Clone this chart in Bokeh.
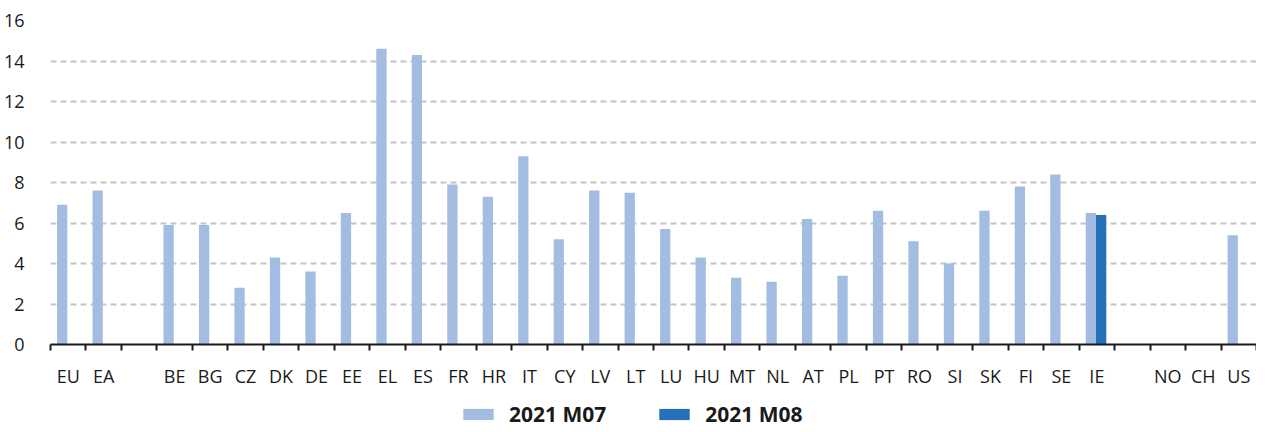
from bokeh.plotting import figure
from bokeh.layouts import column
from bokeh.models import FixedTicker, Legend, LegendItem, Range1d, ColumnDataSource
from bokeh.embed import file_html
from bokeh.resources import INLINE

categories = ["EU", "EA", "", "BE", "BG", "CZ", "DK", "DE", "EE", "EL", "ES", "FR",
              "HR", "IT", "CY", "LV", "LT", "LU", "HU", "MT", "NL", "AT", "PL", "PT",
              "RO", "SI", "SK", "FI", "SE", "IE", "", "NO", "CH", "US"]
m07 = [6.9, 7.6, None, 5.9, 5.9, 2.8, 4.3, 3.6, 6.5, 14.6, 14.3, 7.9,
       7.3, 9.3, 5.2, 7.6, 7.5, 5.7, 4.3, 3.3, 3.1, 6.2, 3.4, 6.6,
       5.1, 4.0, 6.6, 7.8, 8.4, 6.5, None, None, None, 5.4]
m08 = [None] * 29 + [6.4] + [None] * 4
series_names = ["2021 M07", "2021 M08"]
y_ticks = [0, 2, 4, 6, 8, 10, 12, 14, 16]

FONT = "Open Sans"
C07 = "#a3bde2"
C08 = "#2470ba"

n = len(categories)
bar_w = 0.29
off07, off08 = -0.17, 0.12


def src(vals, off):
    xs, tops = [], []
    for i, v in enumerate(vals):
        if v is not None:
            xs.append(i + 0.5 + off)
            tops.append(v)
    return ColumnDataSource(dict(x=xs, top=tops))


p = figure(width=1256, height=392, output_backend="svg", toolbar_location=None,
           x_range=Range1d(0, n), y_range=Range1d(0, 16),
           min_border_left=44, min_border_right=0, min_border_top=20, min_border_bottom=48)
p.outline_line_color = None
p.background_fill_color = "white"
p.border_fill_color = "white"

r07 = p.vbar(x="x", top="top", width=bar_w, bottom=0, source=src(m07, off07),
             fill_color=C07, line_color=None)
r08 = p.vbar(x="x", top="top", width=bar_w, bottom=0, source=src(m08, off08),
             fill_color=C08, line_color=None)

# grid
p.xgrid.grid_line_color = None
p.ygrid.ticker = FixedTicker(ticks=y_ticks)
p.ygrid.grid_line_color = "#c4c4c4"
p.ygrid.grid_line_width = 2
p.ygrid.grid_line_dash = "6 4"

# y axis
ya = p.yaxis[0]
ya.ticker = FixedTicker(ticks=y_ticks)
ya.axis_line_color = None
ya.major_tick_line_color = None
ya.minor_tick_line_color = None
ya.major_label_standoff = 20
ya.major_label_text_font = FONT
ya.major_label_text_font_size = "18px"
ya.major_label_text_color = "#1a1a1a"

# x axis
xa = p.xaxis[0]
centers = [i + 0.5 for i in range(n)]
xa.ticker = FixedTicker(ticks=centers, minor_ticks=list(range(n + 1)))
xa.major_label_overrides = {c: lab for c, lab in zip(centers, categories)}
xa.major_tick_line_color = None
xa.major_tick_out = 0
xa.major_tick_in = 0
xa.minor_tick_line_color = "#1a1a1a"
xa.minor_tick_line_width = 2
xa.minor_tick_out = 6
xa.minor_tick_in = 0
xa.axis_line_color = "#1a1a1a"
xa.axis_line_width = 2
xa.major_label_standoff = 13
xa.major_label_text_font = FONT
xa.major_label_text_font_size = "18px"
xa.major_label_text_color = "#1a1a1a"

# legend strip below the chart (its swatch bars have zero height, only the legend shows them)
pl = figure(width=1256, height=36, output_backend="svg", toolbar_location=None,
            x_axis_type=None, y_axis_type=None,
            x_range=Range1d(0, 1), y_range=Range1d(0, 1),
            min_border_left=0, min_border_right=0, min_border_top=0, min_border_bottom=0)
pl.grid.visible = False
pl.outline_line_color = None
pl.border_fill_color = "white"
sw = ColumnDataSource(dict(x=[0.5], top=[0.0]))
l07 = pl.vbar(x="x", top="top", bottom=0, width=0.01, source=sw, fill_color=C07, line_color=None)
l08 = pl.vbar(x="x", top="top", bottom=0, width=0.01, source=sw, fill_color=C08, line_color=None)

legend = Legend(items=[LegendItem(label=series_names[0], renderers=[l07]),
                       LegendItem(label=series_names[1], renderers=[l08])],
                orientation="horizontal", location=(409, 0),
                label_text_font=FONT, label_text_font_style="bold",
                label_text_font_size="21px", label_text_color="#1a1a1a",
                glyph_width=38, glyph_height=14, label_standoff=12, spacing=49,
                border_line_color=None, background_fill_alpha=0,
                padding=0, margin=0)
pl.add_layout(legend, "center")

layout = column(p, pl, spacing=0)
open("out.html", "w").write(file_html(layout, INLINE))
